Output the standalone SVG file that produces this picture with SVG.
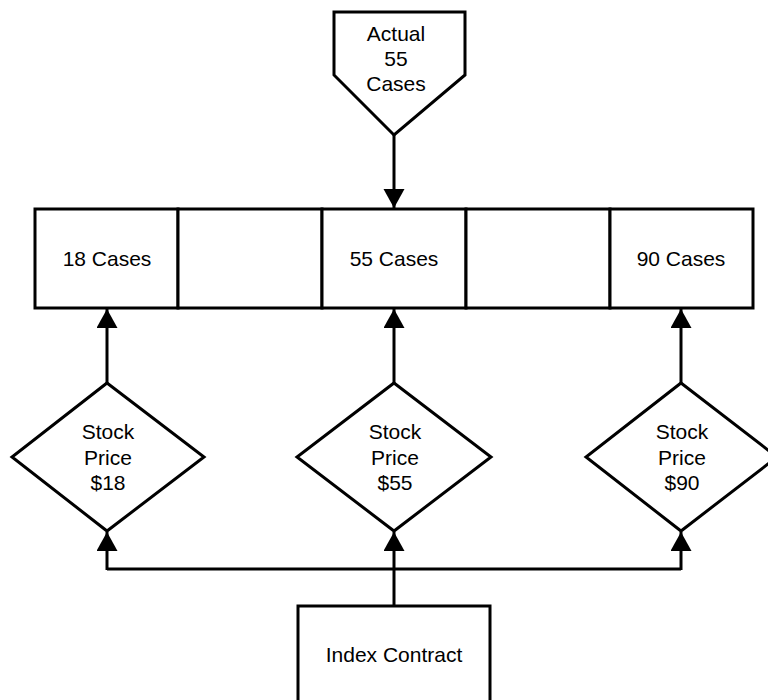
<svg xmlns="http://www.w3.org/2000/svg" width="768" height="700" viewBox="0 0 768 700">
<style>
.s{fill:#fff;stroke:#000;stroke-width:3;stroke-linejoin:miter}
.c{fill:none;stroke:#000;stroke-width:3}
.t{font-family:"Liberation Sans",Arial,sans-serif;font-size:21px;fill:#000;text-anchor:middle;dominant-baseline:central}
</style>
<defs>
<marker id="ah" markerUnits="userSpaceOnUse" markerWidth="20" markerHeight="22" refX="19" refY="10.5" orient="auto">
<path d="M0,0 L19,10.5 L0,21 z" fill="#000"/>
</marker>
</defs>
<rect width="768" height="700" fill="#fff"/>
<g id="connectors">
<line class="c" x1="394" y1="135" x2="394" y2="208" marker-end="url(#ah)"/>
<line class="c" x1="107" y1="383" x2="107" y2="309" marker-end="url(#ah)"/>
<line class="c" x1="394" y1="383" x2="394" y2="309" marker-end="url(#ah)"/>
<line class="c" x1="681" y1="383" x2="681" y2="309" marker-end="url(#ah)"/>
<polyline class="c" points="107,569 681,569"/>
<line class="c" x1="394" y1="606" x2="394" y2="569"/>
<line class="c" x1="107" y1="570" x2="107" y2="532" marker-end="url(#ah)"/>
<line class="c" x1="394" y1="570" x2="394" y2="532" marker-end="url(#ah)"/>
<line class="c" x1="681" y1="570" x2="681" y2="532" marker-end="url(#ah)"/>
</g>
<g id="actual">
<polygon class="s" points="334,12 465,12 465,75 394,135 334,75"/>
<text class="t" x="396" y="33">Actual</text>
<text class="t" x="396" y="58">55</text>
<text class="t" x="396" y="83">Cases</text>
</g>
<g id="cell18">
<rect class="s" x="35" y="209" width="143" height="99"/>
<text class="t" x="107" y="258">18 Cases</text>
</g>
<g id="cellA">
<rect class="s" x="178" y="209" width="144" height="99"/>
</g>
<g id="cell55">
<rect class="s" x="322" y="209" width="144" height="99"/>
<text class="t" x="394" y="258">55 Cases</text>
</g>
<g id="cellB">
<rect class="s" x="466" y="209" width="144" height="99"/>
</g>
<g id="cell90">
<rect class="s" x="610" y="209" width="143" height="99"/>
<text class="t" x="681" y="258">90 Cases</text>
</g>
<g id="d18">
<polygon class="s" points="107,383 204,457 107,531 12,457"/>
<text class="t" x="108" y="431">Stock</text>
<text class="t" x="108" y="457">Price</text>
<text class="t" x="108" y="482">$18</text>
</g>
<g id="d55">
<polygon class="s" points="394,383 491,457 394,531 297,457"/>
<text class="t" x="395" y="431">Stock</text>
<text class="t" x="395" y="457">Price</text>
<text class="t" x="395" y="482">$55</text>
</g>
<g id="d90">
<polygon class="s" points="681,383 777,457 681,531 586,457"/>
<text class="t" x="682" y="431">Stock</text>
<text class="t" x="682" y="457">Price</text>
<text class="t" x="682" y="482">$90</text>
</g>
<g id="index">
<rect class="s" x="298" y="606" width="192" height="110"/>
<text class="t" x="394" y="654">Index Contract</text>
</g>
</svg>
